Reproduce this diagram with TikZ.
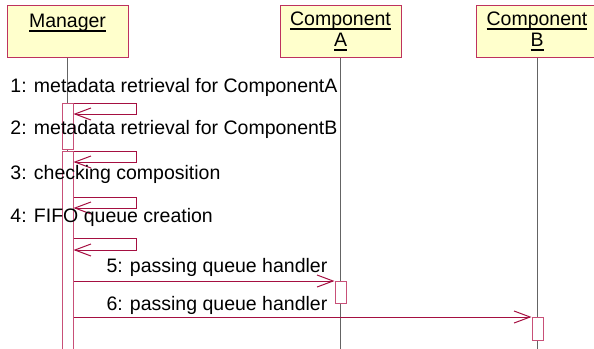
\documentclass[tikz,border=0pt]{standalone}
\usepackage{fontspec}
\setmainfont{Liberation Sans}
\usetikzlibrary{arrows.meta}
\newcommand{\ulword}[1]{\setbox0\hbox{#1}\rlap{\copy0}\rule[-2.2pt]{\wd0}{0.9pt}}
\definecolor{boxred}{RGB}{190,50,95}
\definecolor{boxfill}{RGB}{255,255,204}
\definecolor{barred}{RGB}{200,80,120}
\definecolor{msgred}{RGB}{165,15,65}
\definecolor{lifegray}{RGB}{100,100,100}
\begin{document}
\begin{tikzpicture}[x=0.5pt, y=-0.5pt, line width=0.5pt]
    \tikzset{
      obj/.style={draw=boxred, fill=boxfill, minimum width=60.5pt, minimum height=26pt,
        align=center, inner sep=0pt, font=\fontsize{9.75}{10.5}\selectfont},
      bar/.style={draw=barred, fill=white, minimum width=5.5pt, inner sep=0pt},
      life/.style={draw=lifegray},
      msg/.style={draw=msgred, -{Straight Barb[length=8pt, width=6pt]}},
      desc/.style={anchor=base west, inner sep=0pt, font=\fontsize{9.75}{10.5}\selectfont},
    }
    \useasboundingbox (0,0) rectangle (594,348);

    \node[obj] (manager) at (67.5,31) {\ulword{Manager}\\ \mbox{}};
    \node[obj] (compA) at (340.5,31) {\ulword{Component}\\ \ulword{A}};
    \node[obj] (compB) at (537,31) {\ulword{Component}\\ \ulword{B}};

    \draw[life] (manager.south) -- (manager.south |- 0,352);
    \draw[life] (compA.south) -- (compA.south |- 0,352);
    \draw[life] (compB.south) -- (compB.south |- 0,352);

    \node[bar, minimum height=23pt, anchor=north] (bar1) at (67.5,103) {};
    \node[bar, minimum height=101pt, anchor=north] (bar2) at (67.5,151) {};
    \node[bar, minimum height=11pt, anchor=north] (barA) at (340.5,281) {};
    \node[bar, minimum height=11.5pt, anchor=north] (barB) at (537.5,317) {};

    % self calls
    \draw[msg] (bar1.north east) -- ++(63,0) -- ++(0,11) -- ++(-63,0);
    \draw[msg] (bar2.north east) -- ++(63,0) -- ++(0,11) -- ++(-63,0);
    \draw[msg] (bar2.north east) ++(0,46) -- ++(63,0) -- ++(0,11) -- ++(-63,0);
    \draw[msg] (bar2.north east) ++(0,87) -- ++(63,0) -- ++(0,12) -- ++(-63,0);

    \draw[msg] (bar2.east |- barA.north west) -- (barA.north west);
    \draw[msg] (bar2.east |- barB.north west) -- (barB.north west);

    \node[desc] (lbl1) at (10,92) {1: metadata retrieval for ComponentA};
    \node[desc] (lbl2) at (10,134) {2: metadata retrieval for ComponentB};
    \node[desc] (lbl3) at (10,179) {3: checking composition};
    \node[desc] (lbl4) at (10,222) {4: FIFO queue creation};
    \node[desc] (lbl5) at (106,272) {5: passing queue handler};
    \node[desc] (lbl6) at (106,310) {6: passing queue handler};
\end{tikzpicture}
\end{document}
